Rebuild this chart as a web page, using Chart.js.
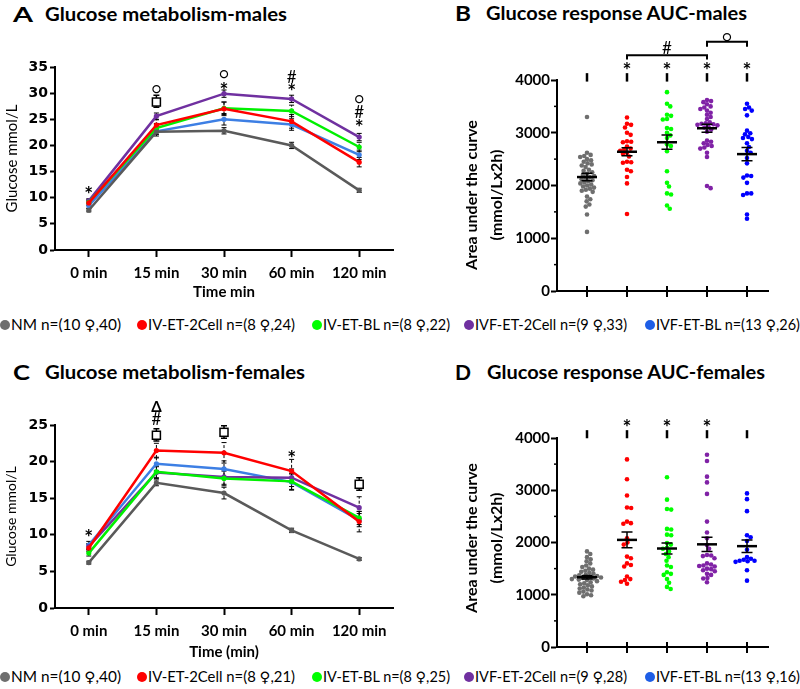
<!DOCTYPE html>
<html lang="en">
<head>
<meta charset="UTF-8">
<title>Glucose metabolism</title>
<script src="https://cdn.jsdelivr.net/npm/chart.js"></script>
<style>
  body { margin: 0; width: 800px; height: 689px; position: relative; overflow: hidden; background: #fff; font-family: Lato, "DejaVu Sans", sans-serif; color: #000; }
  canvas { position: absolute; }
  .fit { position: absolute; white-space: nowrap; transform-origin: left center; font-weight: bold; }
  .letter { font-size: 21px; line-height: 24px; }
  .head { font-size: 19px; line-height: 24px; }
  .leg { position: absolute; height: 20px; line-height: 20px; font-size: 14.5px; white-space: nowrap; }
  .leg i { position: absolute; top: 5px; width: 10px; height: 10px; border-radius: 50%; }
  .leg span { position: absolute; transform-origin: left center; }
</style>
</head>
<body>
<div class="fit letter" style="left:13px;top:2px" data-w="20">A</div>
<div class="fit head" style="left:45px;top:2px" data-w="242">Glucose metabolism-males</div>
<div class="fit letter" style="left:455px;top:1px" data-w="16">B</div>
<div class="fit head" style="left:486px;top:1px" data-w="261">Glucose response AUC-males</div>
<div class="fit letter" style="left:13px;top:360px" data-w="17">C</div>
<div class="fit head" style="left:45px;top:360px" data-w="260">Glucose metabolism-females</div>
<div class="fit letter" style="left:455px;top:360px" data-w="16">D</div>
<div class="fit head" style="left:487px;top:360px" data-w="278">Glucose response AUC-females</div>

<canvas id="chartA" width="400" height="305" style="left:0;top:0"></canvas>
<canvas id="chartB" width="400" height="305" style="left:400px;top:0"></canvas>
<canvas id="chartC" width="400" height="325" style="left:0;top:340px"></canvas>
<canvas id="chartD" width="400" height="320" style="left:400px;top:340px"></canvas>

<div id="legendTop"></div>
<div id="legendBottom"></div>

<script>
// ---- data ----
const times = ['0 min', '15 min', '30 min', '60 min', '120 min'];
const groups = ['NM', 'IV-ET-2Cell', 'IV-ET-BL', 'IVF-ET-2Cell', 'IVF-ET-BL'];
const maleN = ['n=(10 ♀,40)', 'n=(8 ♀,24)', 'n=(8 ♀,22)', 'n=(9 ♀,33)', 'n=(13 ♀,26)'];
const femaleN = ['n=(10 ♀,40)', 'n=(8 ♀,21)', 'n=(8 ♀,25)', 'n=(9 ♀,28)', 'n=(13 ♀,16)'];

// glucose, mmol/L (A: males, C: females), order = groups
const glucoseMales = [
  [7.6, 22.6, 22.8, 20.0, 11.4],
  [9.0, 23.9, 27.0, 24.6, 16.8],
  [9.1, 23.3, 27.1, 26.6, 19.7],
  [9.4, 25.6, 29.9, 28.9, 21.6],
  [8.5, 22.7, 25.0, 24.0, 18.2]
];
const glucoseMalesSem = [
  [0.3, 0.5, 0.6, 0.6, 0.4],
  [0.5, 1.0, 1.3, 1.3, 0.9],
  [0.5, 0.9, 1.2, 1.1, 0.9],
  [0.4, 0.6, 0.7, 0.7, 0.7],
  [0.5, 0.9, 1.1, 1.1, 0.9]
];
const glucoseFemales = [
  [6.2, 17.1, 15.7, 10.6, 6.7],
  [8.2, 21.5, 21.2, 18.7, 11.8],
  [7.5, 18.6, 17.7, 17.3, 12.3],
  [8.4, 18.5, 17.9, 17.8, 13.7],
  [8.6, 19.7, 19.0, 17.2, 12.0]
];
const glucoseFemalesSem = [
  [0.2, 0.4, 0.8, 0.3, 0.2],
  [0.5, 1.0, 1.4, 1.6, 1.4],
  [0.4, 0.8, 1.0, 1.1, 0.9],
  [0.4, 0.8, 1.0, 1.2, 1.5],
  [0.5, 0.9, 1.1, 1.1, 0.9]
];

// AUC per animal (mmol/L x 2h)
const aucMales = [
  [3300, 2620, 2580, 2560, 2540, 2500, 2480, 2450, 2420, 2400, 2380, 2350, 2300, 2280, 2250, 2220, 2200, 2180, 2160, 2140,
   2120, 2100, 2080, 2060, 2040, 2020, 2000, 1980, 1960, 1940, 1920, 1900, 1880, 1790, 1740, 1700, 1640, 1600, 1450, 1120],
  [3290, 3170, 3150, 3100, 3000, 2960, 2840, 2830, 2820, 2740, 2700, 2680, 2660, 2620, 2600, 2550, 2450, 2440, 2430, 2300,
   2270, 2160, 2040, 1460],
  [3770, 3550, 3500, 3340, 3320, 3260, 3250, 3090, 3070, 3000, 2950, 2900, 2780, 2750, 2650, 2270, 2050, 1980, 1850, 1830,
   1620, 1560],
  [3620, 3600, 3580, 3540, 3500, 3480, 3450, 3420, 3380, 3340, 3300, 3260, 3200, 3180, 3170, 3160, 3150, 3140, 3120, 3100,
   3060, 3020, 2850, 2830, 2800, 2770, 2750, 2720, 2700, 2620, 2540, 1990, 1950],
  [3550, 3480, 3450, 3420, 3330, 3040, 2990, 2970, 2920, 2900, 2880, 2800, 2730, 2660, 2620, 2520, 2420, 2190, 2180, 2150,
   2050, 1850, 1850, 1820, 1450, 1370]
];
const aucMalesMean = [2160, 2640, 2820, 3085, 2595];
const aucMalesSem = [70, 75, 135, 75, 125];

const aucFemales = [
  [1830, 1780, 1720, 1680, 1640, 1600, 1560, 1530, 1500, 1480, 1460, 1440, 1420, 1400, 1380, 1370, 1360, 1350, 1340, 1330,
   1320, 1310, 1300, 1290, 1280, 1260, 1240, 1220, 1200, 1180, 1160, 1140, 1120, 1100, 1080, 1060, 1040, 1010, 990, 970],
  [3590, 3210, 2900, 2670, 2660, 2400, 2370, 2360, 2080, 2000, 1960, 1730, 1700, 1600, 1570, 1540, 1350, 1300, 1280, 1250, 1210],
  [3250, 2820, 2640, 2630, 2260, 2250, 2150, 2140, 1990, 1960, 1900, 1880, 1830, 1780, 1720, 1650, 1560, 1530, 1430, 1400,
   1380, 1300, 1230, 1150, 1110],
  [3680, 3560, 3260, 3150, 2930, 2400, 2190, 2080, 1950, 1880, 1760, 1750, 1740, 1700, 1600, 1580, 1560, 1550, 1540, 1500,
   1490, 1470, 1450, 1400, 1380, 1320, 1310, 1240],
  [2940, 2830, 2600, 2140, 2100, 2030, 1860, 1720, 1690, 1670, 1650, 1650, 1640, 1630, 1470, 1270]
];
const aucFemalesMean = [1335, 2050, 1885, 1965, 1930];
const aucFemalesSem = [35, 150, 105, 135, 120];

const maleStars = [false, true, true, true, true];
const femaleStars = [false, true, true, true, false];

const lineColors = ['#5a5a5a', '#ff0000', '#00f000', '#7030a0', '#3d7fe4'];
const dotColors = ['#6f6f6f', '#ff0000', '#00ff00', '#8022a6', '#0000ff'];
const legendColors = ['#6e6e6e', '#ff0000', '#00ff00', '#7030a0', '#1e5ee6'];

// significance symbols on the time-course panels
const marksA = [
  {x: 0, y: 11.4, t: '*'}, {x: 1, y: 30.7, t: '○'}, {x: 1, y: 28.3, t: 'box', lo: 27.3, hi: 29.6},
  {x: 2, y: 33.6, t: '○'}, {x: 2, y: 31.3, t: '*'}, {x: 3, y: 33.2, t: '#'}, {x: 3, y: 31.1, t: '*'},
  {x: 4, y: 28.8, t: '○'}, {x: 4, y: 26.4, t: '#'}, {x: 4, y: 24.2, t: '*'}
];
const marksC = [
  {x: 0, y: 10.2, t: '*'}, {x: 1, y: 27.5, t: 'Δ'}, {x: 1, y: 25.9, t: '#'},
  {x: 1, y: 23.6, t: 'box', lo: 22.8, hi: 24.5}, {x: 2, y: 24.0, t: 'box', lo: 23.2, hi: 24.9},
  {x: 3, y: 21.1, t: '*'}, {x: 4, y: 16.9, t: 'box', lo: 16.1, hi: 17.8}
];

// ---- helpers ----
Chart.defaults.font.family = 'Lato, "DejaVu Sans", sans-serif';
Chart.defaults.color = '#000';

function zeroPad(s) { s.paddingTop = 0; s.paddingBottom = 0; s.paddingLeft = 0; s.paddingRight = 0; }

function drawSymbol(ctx, t, px, py) {
  const size = {'○': '15px', '*': 'bold 21px', '#': '17px', 'Δ': 'bold 15px'}[t];
  ctx.font = size + ' Lato, "DejaVu Sans", sans-serif';
  ctx.textAlign = 'center';
  ctx.textBaseline = 'alphabetic';
  const m = ctx.measureText(t);
  ctx.fillText(t, px, py + (m.actualBoundingBoxAscent - m.actualBoundingBoxDescent) / 2);
}

const errorBars = {
  id: 'errorBars',
  beforeDatasetsDraw(chart) {
    const {ctx, scales: {x, y}} = chart;
    ctx.save();
    ctx.strokeStyle = '#000';
    ctx.lineWidth = 1;
    chart.data.datasets.forEach(ds => {
      ds.errors.forEach((e, i) => {
        const px = x.getPixelForValue(i);
        const y1 = y.getPixelForValue(ds.data[i] - e), y2 = y.getPixelForValue(ds.data[i] + e);
        ctx.setLineDash([3, 2]);
        ctx.beginPath(); ctx.moveTo(px, y1); ctx.lineTo(px, y2); ctx.stroke();
        ctx.setLineDash([]);
        ctx.beginPath();
        ctx.moveTo(px - 2.5, y1); ctx.lineTo(px + 2.5, y1);
        ctx.moveTo(px - 2.5, y2); ctx.lineTo(px + 2.5, y2);
        ctx.stroke();
      });
    });
    ctx.restore();
  }
};

const marks = {
  id: 'marks',
  afterDraw(chart, args, opts) {
    const {ctx, scales: {x, y}} = chart;
    ctx.save();
    ctx.fillStyle = '#000';
    ctx.strokeStyle = '#000';
    (opts.items || []).forEach(m => {
      const px = x.getPixelForValue(m.x);
      if (m.t === 'box') {
        const py = y.getPixelForValue(m.y), lo = y.getPixelForValue(m.lo), hi = y.getPixelForValue(m.hi);
        ctx.lineWidth = 1.5;
        ctx.beginPath();
        ctx.moveTo(px, lo); ctx.lineTo(px, hi);
        ctx.moveTo(px - 3, lo); ctx.lineTo(px + 3, lo);
        ctx.moveTo(px - 3, hi); ctx.lineTo(px + 3, hi);
        ctx.stroke();
        ctx.fillStyle = '#fff';
        ctx.fillRect(px - 4, py - 4, 8, 8);
        ctx.strokeRect(px - 4, py - 4, 8, 8);
        ctx.fillStyle = '#000';
      } else if (m.t === 'bar') {
        ctx.lineWidth = 2.5;
        ctx.beginPath();
        ctx.moveTo(px, y.getPixelForValue(m.lo)); ctx.lineTo(px, y.getPixelForValue(m.hi));
        ctx.stroke();
      } else if (m.t === 'bracket') {
        const x2 = x.getPixelForValue(m.x2), py = y.getPixelForValue(m.y), tip = y.getPixelForValue(m.tip);
        ctx.lineWidth = 2;
        ctx.beginPath();
        ctx.moveTo(px, tip); ctx.lineTo(px, py); ctx.lineTo(x2, py); ctx.lineTo(x2, tip);
        ctx.stroke();
      } else {
        drawSymbol(ctx, m.t, px, y.getPixelForValue(m.y));
      }
    });
    ctx.restore();
  }
};

// mean +/- SEM, category ticks crossing the x axis, minor y ticks
const summary = {
  id: 'summary',
  afterDatasetsDraw(chart, args, opts) {
    const {ctx, scales: {x, y}} = chart;
    ctx.save();
    ctx.strokeStyle = '#000';
    opts.means.forEach((mv, k) => {
      const px = x.getPixelForValue(k + 1);
      const pm = y.getPixelForValue(mv);
      const lo = y.getPixelForValue(mv - opts.sems[k]), hi = y.getPixelForValue(mv + opts.sems[k]);
      ctx.lineWidth = 1.5;
      ctx.beginPath();
      ctx.moveTo(px, lo); ctx.lineTo(px, hi);
      ctx.moveTo(px - 5.5, lo); ctx.lineTo(px + 5.5, lo);
      ctx.moveTo(px - 5.5, hi); ctx.lineTo(px + 5.5, hi);
      ctx.stroke();
      ctx.lineWidth = 2.5;
      ctx.beginPath(); ctx.moveTo(px - 10, pm); ctx.lineTo(px + 10, pm); ctx.stroke();
      const base = y.getPixelForValue(0);
      ctx.lineWidth = 2;
      ctx.beginPath(); ctx.moveTo(px, base - 5); ctx.lineTo(px, base + 6); ctx.stroke();
    });
    ctx.lineWidth = 1.5;
    for (let v = 500; v < 4000; v += 1000) {
      const py = y.getPixelForValue(v);
      ctx.beginPath(); ctx.moveTo(x.left - 3, py); ctx.lineTo(x.left, py); ctx.stroke();
    }
    // two-line y title
    ctx.fillStyle = '#000';
    ctx.font = 'bold 16px Lato, "DejaVu Sans", sans-serif';
    ctx.textAlign = 'center';
    ctx.textBaseline = 'middle';
    opts.title.forEach((line, i) => {
      ctx.save();
      ctx.translate(x.left - 85 + i * 25, opts.titleY);
      ctx.rotate(-Math.PI / 2);
      ctx.fillText(line, 0, 0);
      ctx.restore();
    });
    ctx.restore();
  }
};

function lineChart(id, vals, errs, opt) {
  return new Chart(document.getElementById(id), {
    type: 'line',
    data: {
      labels: times,
      datasets: groups.map((g, k) => ({
        label: g, data: vals[k], errors: errs[k],
        borderColor: lineColors[k], backgroundColor: lineColors[k],
        borderWidth: 2.5, pointRadius: 2.6, pointBorderWidth: 0, tension: 0
      }))
    },
    options: {
      responsive: false, animation: false,
      layout: {padding: {top: opt.top, right: 7, left: 0, bottom: 0}},
      plugins: {legend: {display: false}, tooltip: {enabled: false}, marks: {items: opt.marks}},
      scales: {
        x: {
          offset: true,
          grid: {drawOnChartArea: false, offset: false, tickLength: 7, tickColor: '#000', tickWidth: 2},
          border: {color: '#000', width: 2},
          ticks: {font: {size: 15, weight: 'bold'}, padding: 7},
          title: {display: true, text: opt.xTitle, font: {size: 15, weight: 'bold'}, padding: {top: 0, bottom: 4}},
          afterFit: s => { s.height = opt.xh; zeroPad(s); }
        },
        y: {
          min: 0, max: opt.max,
          ticks: {stepSize: 5, font: {family: '"DejaVu Sans", sans-serif', size: 14, weight: 'bold'}, padding: 2},
          grid: {drawOnChartArea: false, tickLength: 5, tickColor: '#000', tickWidth: 2},
          border: {color: '#000', width: 2},
          title: {display: true, text: 'Glucose mmol/L', font: {size: opt.ytSize}, padding: {top: 3, bottom: 0}},
          afterFit: s => { s.width = 55; zeroPad(s); }
        }
      }
    },
    plugins: [errorBars, marks]
  });
}

// simple beeswarm: offsets found in pixel space through the chart's scales
function swarm(chart, values, center, d) {
  const x = chart.scales.x, y = chart.scales.y;
  const cx = x.getPixelForValue(center);
  const placed = [];
  const out = new Array(values.length);
  values.map((v, i) => ({v, i})).sort((a, b) => b.v - a.v).forEach(p => {
    const py = y.getPixelForValue(p.v);
    const cands = [0];
    placed.forEach(q => {
      const dy = Math.abs(q.py - py);
      if (dy < d) { const dx = Math.sqrt(d * d - dy * dy); cands.push(q.dx + dx, q.dx - dx); }
    });
    cands.sort((a, b) => Math.abs(a) - Math.abs(b));
    const dx = cands.find(c => placed.every(q => (q.dx - c) ** 2 + (q.py - py) ** 2 >= d * d - 0.01));
    placed.push({dx, py});
    out[p.i] = {x: x.getValueForPixel(cx + dx), y: p.v};
  });
  return out;
}

function dotChart(id, vals, means, sems, stars, extra, opt) {
  const items = [];
  stars.forEach((s, k) => {
    items.push({x: k + 1, t: 'bar', lo: opt.barLo, hi: opt.barHi});
    if (s) items.push({x: k + 1, y: opt.starY, t: '*'});
  });
  const chart = new Chart(document.getElementById(id), {
    type: 'scatter',
    data: {
      datasets: vals.map((v, k) => ({
        label: groups[k], data: v.map(a => ({x: k + 1, y: a})),
        backgroundColor: dotColors[k], pointRadius: 2.3, pointBorderWidth: 0
      }))
    },
    options: {
      responsive: false, animation: false,
      layout: {padding: {top: opt.top, left: 60, right: 32, bottom: 0}},
      plugins: {
        legend: {display: false}, tooltip: {enabled: false},
        marks: {items: items.concat(extra)},
        summary: {means, sems, title: ['Area under the curve', '(mmol/Lx2h)'], titleY: opt.titleY}
      },
      scales: {
        x: {
          type: 'linear', min: 0.25, max: 5.525,
          ticks: {display: false}, grid: {display: false},
          border: {color: '#000', width: 2},
          afterFit: s => { s.height = opt.xh; zeroPad(s); }
        },
        y: {
          min: 0, max: 4000,
          ticks: {stepSize: 500, callback: v => (v % 1000 === 0 ? v : ''), font: {size: 15, weight: 'bold'}, padding: 1},
          grid: {drawOnChartArea: false, tickLength: 6, tickWidth: 2,
                 tickColor: c => (c.tick && c.tick.value % 1000 ? 'rgba(0,0,0,0)' : '#000')},
          border: {color: '#000', width: 2},
          afterFit: s => { s.width = 97; zeroPad(s); }
        }
      }
    },
    plugins: [summary, marks]
  });
  chart.data.datasets.forEach((ds, k) => { ds.data = swarm(chart, vals[k], k + 1, 4.2); });
  chart.update('none');
  return chart;
}

// ---- charts ----
lineChart('chartA', glucoseMales, glucoseMalesSem, {top: 67, xh: 55, max: 35, xTitle: 'Time min', marks: marksA, ytSize: 15});
lineChart('chartC', glucoseFemales, glucoseFemalesSem, {top: 85, xh: 57, max: 25, xTitle: 'Time (min)', marks: marksC, ytSize: 14});

dotChart('chartB', aucMales, aucMalesMean, aucMalesSem, maleStars, [
  {x: 2, x2: 4, y: 4470, tip: 4390, t: 'bracket'}, {x: 3, y: 4615, t: '#'},
  {x: 4, x2: 5, y: 4725, tip: 4630, t: 'bracket'}, {x: 4.5, y: 4810, t: '○'}
], {top: 80, xh: 14, barLo: 3970, barHi: 4130, starY: 4265, titleY: 195});

dotChart('chartD', aucFemales, aucFemalesMean, aucFemalesSem, femaleStars, [],
  {top: 98, xh: 13, barLo: 3995, barHi: 4150, starY: 4280, titleY: 198});

// ---- legends ----
const legendX = [0, 137, 312, 464, 645];
const legendW = [110, 147, 127, 152, 144];
function legend(id, counts, cy) {
  const box = document.getElementById(id);
  groups.forEach((g, k) => {
    const item = document.createElement('div');
    item.className = 'leg';
    item.style.left = legendX[k] + 'px';
    item.style.top = (cy - 10) + 'px';
    item.innerHTML = '<i style="left:0;background:' + legendColors[k] + '"></i><span style="left:11px">' + g + ' ' + counts[k] + '</span>';
    box.appendChild(item);
    const sp = item.querySelector('span');
    sp.style.transform = 'scaleX(' + (legendW[k] / sp.getBoundingClientRect().width) + ')';
  });
}
legend('legendTop', maleN, 325);
legend('legendBottom', femaleN, 677);

document.querySelectorAll('.fit').forEach(el => {
  el.style.transform = 'scaleX(' + (el.dataset.w / el.getBoundingClientRect().width) + ')';
});
</script>
</body>
</html>
